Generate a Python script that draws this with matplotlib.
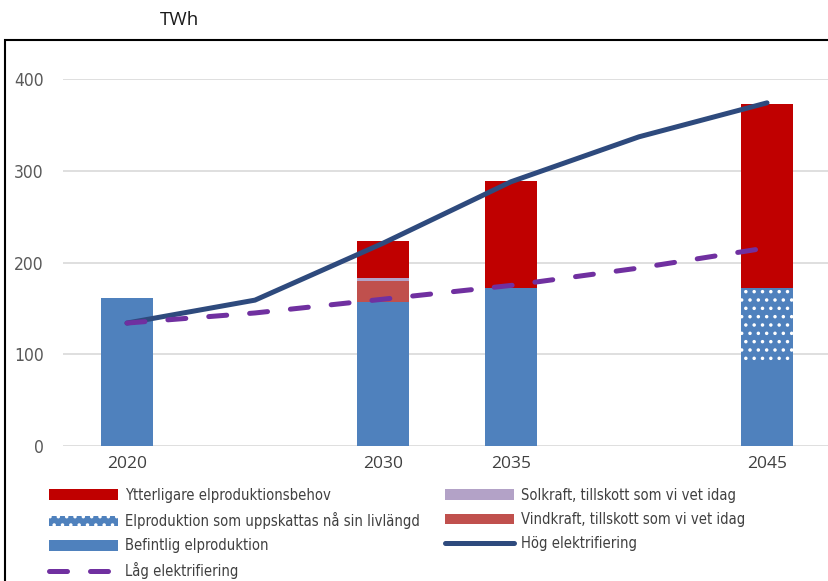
import matplotlib
matplotlib.use("Agg")
import matplotlib.pyplot as plt
from matplotlib import font_manager
from matplotlib.patches import Patch, Rectangle
from matplotlib.lines import Line2D
import numpy as np

# values in TWh
years = ["2020", "2025", "2030", "2035", "2040", "2045"]
tick_labels = ["2020", "", "2030", "2035", "", "2045"]
befintlig = [161, 0, 157, 172, 0, 92]
livslangd = [0, 0, 0, 0, 0, 80]
vindkraft = [0, 0, 23, 0, 0, 0]
solkraft = [0, 0, 3, 0, 0, 0]
ytterligare = [0, 0, 40, 117, 0, 201]
hog_el = [134, 159, 221, 288, 337, 374]
lag_el = [134, 145, 160, 175, 194, 216]

C_RED = "#C00000"
C_VIND = "#C0504D"
C_SOL = "#B3A2C7"
C_BLUE = "#4F81BD"
C_HOG = "#2E4A7D"
C_LAG = "#7030A0"

# the reference uses a condensed face; take DejaVu Sans Condensed if present
cond = font_manager.FontProperties(family="DejaVu Sans", stretch="condensed")
has_cond = "Condensed" in font_manager.findfont(cond)
if has_cond:
    NARROW = dict(family="DejaVu Sans", stretch="condensed")
    LEG_SIZE = 10.6
else:
    NARROW = dict(family="Roboto")
    LEG_SIZE = 10.0

plt.rcParams["hatch.linewidth"] = 1.3

fig = plt.figure(figsize=(8.29, 5.81), dpi=100)
ax = fig.add_axes([63 / 829, 135 / 581, 768 / 829, 367 / 581])

x = np.arange(len(years))
w = 0.41
bottom = np.zeros(len(years))
ax.bar(x, befintlig, w, bottom=bottom, color=C_BLUE, linewidth=0, zorder=2)
bottom += befintlig
ax.bar(x, livslangd, w, bottom=bottom, color=C_BLUE, edgecolor="white",
       hatch="..", linewidth=0, zorder=2)
bottom += livslangd
ax.bar(x, vindkraft, w, bottom=bottom, color=C_VIND, linewidth=0, zorder=2)
bottom += vindkraft
ax.bar(x, solkraft, w, bottom=bottom, color=C_SOL, linewidth=0, zorder=2)
bottom += solkraft
ax.bar(x, ytterligare, w, bottom=bottom, color=C_RED, linewidth=0, zorder=2)

ax.plot(x, hog_el, color=C_HOG, lw=3.6, solid_capstyle="round", zorder=4)
ax.plot(x, lag_el, color=C_LAG, lw=3.6, dashes=(3.6, 4.6),
        dash_capstyle="round", zorder=5)

ax.set_xlim(-0.5, 5.5)
ax.set_ylim(0, 400)
ax.set_yticks([0, 100, 200, 300, 400])
ax.set_xticks(x)
ax.set_xticklabels(tick_labels, family="Open Sans", fontsize=12.5, color="#404040")
for lab in ax.get_yticklabels():
    lab.set(**NARROW)
    lab.set_fontsize(12.5)
    lab.set_color("#595959")
ax.tick_params(axis="y", length=0, pad=14)
ax.tick_params(axis="x", length=0, pad=7)
ax.yaxis.grid(True, color="#D9D9D9", lw=1.2, zorder=0)
ax.set_axisbelow(True)
for s in ax.spines.values():
    s.set_visible(False)

fig.text(179 / 829, 1 - 20 / 581, "TWh", family="Open Sans", fontsize=13.5,
         color="#1a1a1a", ha="center", va="center")

# outer frame, cut off at right and bottom like in the reference
fig.patches.append(Rectangle((5.5 / 829, -0.05), 1.2, 1 - 40 / 581 + 0.05,
                             transform=fig.transFigure, fill=False,
                             edgecolor="black", lw=1.5))

leg_prop = font_manager.FontProperties(size=LEG_SIZE, **NARROW)
leg_kw = dict(frameon=False, prop=leg_prop,
              handlelength=69 * 0.72 / LEG_SIZE, handleheight=0.75,
              handletextpad=0.5, labelspacing=0.62, borderpad=0,
              borderaxespad=0, labelcolor="#404040")
h1 = [Patch(facecolor=C_RED, linewidth=0),
      Patch(facecolor=C_BLUE, edgecolor="white", hatch="..", linewidth=0),
      Patch(facecolor=C_BLUE, linewidth=0),
      Line2D([], [], color=C_LAG, lw=3.6, dashes=(3.6, 4.6), dash_capstyle="round")]
l1 = ["Ytterligare elproduktionsbehov",
      "Elproduktion som uppskattas nå sin livlängd",
      "Befintlig elproduktion",
      "Låg elektrifiering"]
h2 = [Patch(facecolor=C_SOL, linewidth=0),
      Patch(facecolor=C_VIND, linewidth=0),
      Line2D([], [], color=C_HOG, lw=3.6, solid_capstyle="round")]
l2 = ["Solkraft, tillskott som vi vet idag",
      "Vindkraft, tillskott som vi vet idag",
      "Hög elektrifiering"]

fig.legend(h1, l1, loc="upper left", bbox_to_anchor=(49 / 829, 1 - 488 / 581), **leg_kw)
fig.legend(h2, l2, loc="upper left", bbox_to_anchor=(445 / 829, 1 - 488 / 581), **leg_kw)

fig.savefig("out.png", dpi=100)
